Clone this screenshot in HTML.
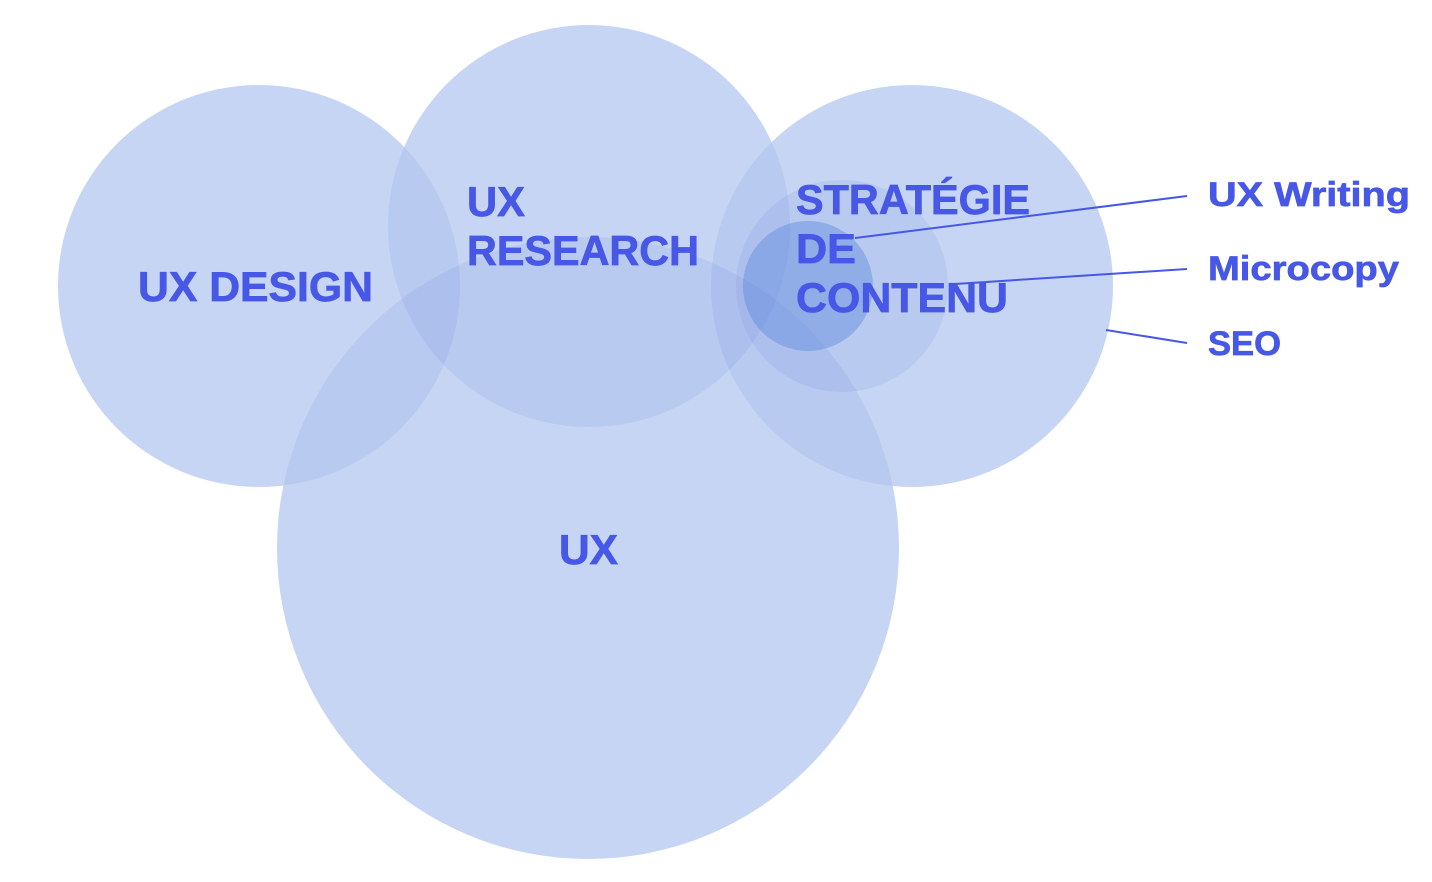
<!DOCTYPE html>
<html><head><meta charset="utf-8"><style>
html,body{margin:0;padding:0;background:#fff;}
svg{display:block;}
text{font-family:"Liberation Sans",sans-serif;font-weight:bold;fill:#4757e6;stroke:#4757e6;stroke-width:0.7;}
</style></head><body>
<svg width="1432" height="882" viewBox="0 0 1432 882" xmlns="http://www.w3.org/2000/svg">
<g fill="rgb(213,226,246)">
<circle cx="259" cy="286" r="201"/>
<circle cx="589" cy="226" r="201"/>
<circle cx="588" cy="548" r="311"/>
<circle cx="912" cy="286" r="201"/>
</g>
<g fill="rgb(92,125,219)" fill-opacity="0.123">
<circle cx="259" cy="286" r="201"/>
<circle cx="589" cy="226" r="201"/>
<circle cx="588" cy="548" r="311"/>
<circle cx="912" cy="286" r="201"/>
<circle cx="842" cy="286" r="106"/>
<circle cx="808" cy="286" r="65"/>
</g>
<circle cx="808" cy="286" r="65" fill="rgb(92,138,221)" fill-opacity="0.35"/>
<g font-size="42">
<text x="138" y="301" textLength="235" lengthAdjust="spacingAndGlyphs">UX DESIGN</text>
<text x="467" y="216" textLength="58" lengthAdjust="spacingAndGlyphs">UX</text>
<text x="467" y="265" textLength="232" lengthAdjust="spacingAndGlyphs">RESEARCH</text>
<text x="796" y="214" textLength="234" lengthAdjust="spacingAndGlyphs">STRATÉGIE</text>
<text x="796" y="263" textLength="60" lengthAdjust="spacingAndGlyphs">DE</text>
<text x="796" y="312" textLength="212" lengthAdjust="spacingAndGlyphs">CONTENU</text>
<text x="559" y="564" textLength="59" lengthAdjust="spacingAndGlyphs">UX</text>
</g>
<g font-size="34">
<text x="1208" y="206" textLength="202" lengthAdjust="spacingAndGlyphs">UX Writing</text>
<text x="1208" y="280" textLength="191" lengthAdjust="spacingAndGlyphs">Microcopy</text>
<text x="1208" y="355" textLength="73" lengthAdjust="spacingAndGlyphs">SEO</text>
</g>
<g stroke="#4757e6" stroke-width="2" fill="none">
<line x1="855" y1="238" x2="1187" y2="196"/>
<line x1="955" y1="284" x2="1187" y2="269"/>
<line x1="1106" y1="330" x2="1187" y2="343"/>
</g>
</svg>
</body></html>
